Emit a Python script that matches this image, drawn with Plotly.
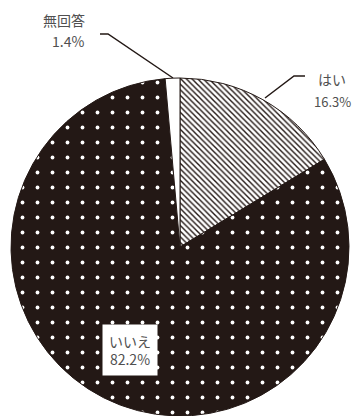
import plotly.graph_objects as go

labels = ["はい", "いいえ", "無回答"]
values = [16.3, 82.2, 1.4]

W, H = 355, 416
DARK = "#231815"
TXT = "#505050"

def px(x):
    return x / W

def py(y):
    return 1 - y / H

fig = go.Figure()
fig.add_trace(go.Pie(
    labels=labels,
    values=values,
    sort=False,
    direction="clockwise",
    rotation=0,
    textinfo="none",
    hoverinfo="skip",
    showlegend=False,
    domain=dict(x=[10 / W, 350 / W], y=[0, 338 / H]),
    marker=dict(
        colors=["white", DARK, "white"],
        line=dict(color=DARK, width=1),
        pattern=dict(
            shape=["\\", ".", ""],
            fgcolor=[DARK, "white", DARK],
            bgcolor=["white", DARK, "white"],
            size=[4, 15, 8],
            solidity=[0.35, 0.05, 0.1],
        ),
    ),
))

font = dict(family="Noto Sans CJK JP", size=14, color=TXT)

# 無回答
fig.add_annotation(x=px(63.5), y=py(19.5), xref="paper", yref="paper",
                   text="無回答", showarrow=False, font=font,
                   xanchor="center", yanchor="middle")
fig.add_annotation(x=px(86), y=py(41), xref="paper", yref="paper",
                   text="1.4%", showarrow=False, font=font,
                   xanchor="right", yanchor="middle")
# はい
fig.add_annotation(x=px(316), y=py(79), xref="paper", yref="paper",
                   text="はい", showarrow=False, font=font,
                   xanchor="left", yanchor="middle")
fig.add_annotation(x=px(353), y=py(101), xref="paper", yref="paper",
                   text="16.3%", showarrow=False,
                   font=dict(family="Noto Sans CJK JP", size=13, color=TXT),
                   xanchor="right", yanchor="middle")
# いいえ
fig.add_annotation(x=px(130), y=py(350), xref="paper", yref="paper",
                   text="いいえ<br>82.2%", showarrow=False, font=font,
                   xanchor="center", yanchor="middle",
                   bgcolor="white", borderpad=6)

# leader lines
def path(points):
    s = "M {} {}".format(px(points[0][0]), py(points[0][1]))
    for x, y in points[1:]:
        s += " L {} {}".format(px(x), py(y))
    return s

fig.add_shape(type="path", xref="paper", yref="paper",
              path=path([(100, 34), (108, 34), (173, 78)]),
              line=dict(color=DARK, width=1.5))
fig.add_shape(type="path", xref="paper", yref="paper",
              path=path([(305, 76), (294, 76), (265, 98)]),
              line=dict(color=DARK, width=1.5))

fig.update_layout(
    width=W, height=H,
    margin=dict(l=0, r=0, t=0, b=0),
    paper_bgcolor="white",
    plot_bgcolor="white",
)

fig.write_html("out.html")
